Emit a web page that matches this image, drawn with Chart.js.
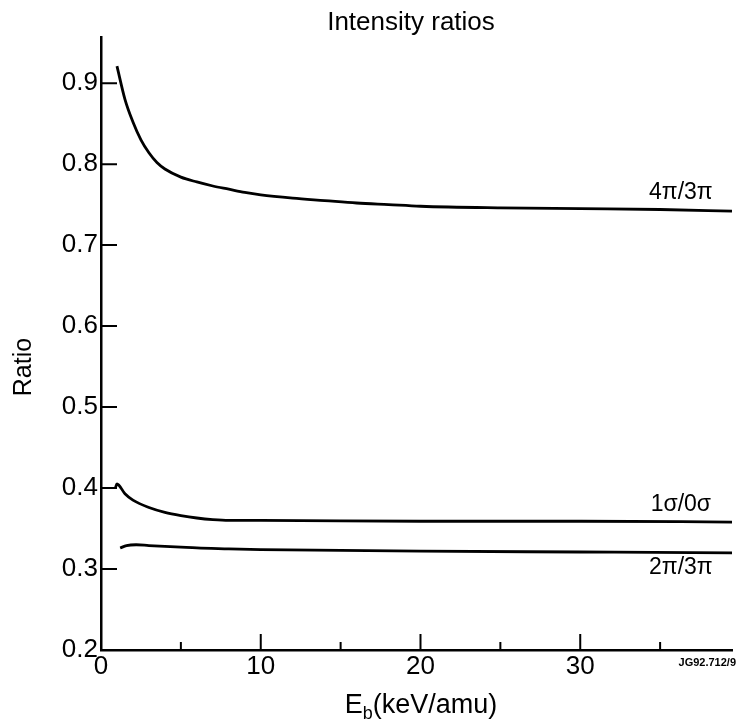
<!DOCTYPE html>
<html>
<head>
<meta charset="utf-8">
<script src="https://cdn.jsdelivr.net/npm/chart.js@4/dist/chart.umd.min.js"></script>
<style>
  body { margin: 0; background: #fff; }
  #wrap { width: 739px; height: 725px; }
</style>
</head>
<body>
<div id="wrap"><canvas id="ratios" width="739" height="725"></canvas></div>
<script>
// curve data: beam energy (keV/amu) vs ratio
const x4pi3pi = [1.0, 1.5, 2.0, 2.5, 3.0, 3.5, 4.0, 5.0, 6.0, 7.0, 8.0, 9.0, 10, 12, 14, 16, 18, 20, 25, 30, 35, 39.5];
const y4pi3pi = [0.921, 0.880, 0.852, 0.830, 0.814, 0.802, 0.794, 0.784, 0.778, 0.773, 0.769, 0.765, 0.762, 0.758, 0.755, 0.752, 0.750, 0.748, 0.746, 0.745, 0.744, 0.742];

const x1s0s = [0.9, 1.0, 1.5, 2.0, 3.0, 4.0, 5.0, 6.0, 7.0, 8.0, 10, 20, 30, 39.5];
const y1s0s = [0.400, 0.405, 0.393, 0.385, 0.376, 0.370, 0.366, 0.363, 0.361, 0.360, 0.360, 0.359, 0.359, 0.358];

const x2pi3pi = [1.2, 1.6, 2.2, 3.0, 4.0, 5.0, 6.0, 8.0, 10, 15, 20, 30, 39.5];
const y2pi3pi = [0.326, 0.329, 0.330, 0.329, 0.328, 0.327, 0.326, 0.325, 0.324, 0.323, 0.322, 0.321, 0.320];

const seriesNames = ["4π/3π", "1σ/0σ", "2π/3π"];
// where each curve name sits (data coords)
const nameX = [36.3, 36.3, 36.3];
const nameY = [0.765, 0.380, 0.302];

const xMajorTicks = [0, 10, 20, 30];
const xMinorTicks = [5, 15, 25, 35];
const yTicks = [0.2, 0.3, 0.4, 0.5, 0.6, 0.7, 0.8, 0.9];

const FONT = "'Liberation Sans', Arial, Helvetica, sans-serif";

function toPoints(xs, ys) {
    return xs.map((x, i) => ({ x: x, y: ys[i] }));
}

function lineSet(label, xs, ys) {
    return {
        label: label,
        data: toPoints(xs, ys),
        showLine: true,
        borderColor: "#000",
        borderWidth: 2.8,
        pointRadius: 0,
        fill: false,
        cubicInterpolationMode: "monotone"
    };
}

// inside tick marks, curve names and free text
const decorations = {
    id: "decorations",
    afterDraw(chart) {
        const ctx = chart.ctx;
        const xs = chart.scales.x, ys = chart.scales.y;
        const area = chart.chartArea;
        ctx.save();
        ctx.strokeStyle = "#000";
        ctx.lineWidth = 2;
        ctx.beginPath();
        yTicks.forEach(v => {
            const py = ys.getPixelForValue(v);
            ctx.moveTo(area.left, py);
            ctx.lineTo(area.left + 16, py);
        });
        xMajorTicks.slice(1).forEach(v => {
            const px = xs.getPixelForValue(v);
            ctx.moveTo(px, area.bottom);
            ctx.lineTo(px, area.bottom - 16);
        });
        xMinorTicks.forEach(v => {
            const px = xs.getPixelForValue(v);
            ctx.moveTo(px, area.bottom);
            ctx.lineTo(px, area.bottom - 8);
        });
        ctx.stroke();

        ctx.fillStyle = "#000";
        ctx.textAlign = "center";
        ctx.textBaseline = "middle";
        ctx.font = "23px " + FONT;
        seriesNames.forEach((name, i) => {
            ctx.fillText(name, xs.getPixelForValue(nameX[i]), ys.getPixelForValue(nameY[i]));
        });

        // title
        ctx.font = "26px " + FONT;
        ctx.fillText("Intensity ratios", 411, 23);

        // y title
        ctx.save();
        ctx.translate(24, 367);
        ctx.rotate(-Math.PI / 2);
        ctx.font = "25px " + FONT;
        ctx.fillText("Ratio", 0, 0);
        ctx.restore();

        // x title with subscript
        ctx.textAlign = "left";
        ctx.textBaseline = "alphabetic";
        const p1 = "E", p3 = "(keV/amu)";
        ctx.font = "18px " + FONT;
        const wSub = ctx.measureText("b").width;
        ctx.font = "27px " + FONT;
        const w1 = ctx.measureText(p1).width, w3 = ctx.measureText(p3).width;
        let sx = 421 - (w1 + wSub + w3) / 2;
        const base = 713;
        ctx.fillText(p1, sx, base);
        ctx.font = "18px " + FONT;
        ctx.fillText("b", sx + w1, base + 6);
        ctx.font = "27px " + FONT;
        ctx.fillText(p3, sx + w1 + wSub, base);

        // plate id
        ctx.font = "bold 11px 'Liberation Sans Narrow', " + FONT;
        ctx.textAlign = "right";
        ctx.fillText("JG92.712/9", 736, 666);
        ctx.restore();
    }
};

new Chart(document.getElementById("ratios"), {
    type: "scatter",
    data: {
        datasets: [
            lineSet(seriesNames[0], x4pi3pi, y4pi3pi),
            lineSet(seriesNames[1], x1s0s, y1s0s),
            lineSet(seriesNames[2], x2pi3pi, y2pi3pi)
        ]
    },
    options: {
        responsive: false,
        animation: false,
        layout: { padding: { left: 0, right: 7, top: 37, bottom: 0 } },
        plugins: {
            legend: { display: false },
            tooltip: { enabled: false },
            title: { display: false }
        },
        scales: {
            x: {
                type: "linear",
                min: 0,
                max: 39.5,
                afterFit: s => { s.height = 75; },
                afterBuildTicks: s => { s.ticks = xMajorTicks.map(v => ({ value: v })); },
                grid: { display: false, drawTicks: false },
                border: { display: true, color: "#000", width: 2.5 },
                ticks: {
                    color: "#000",
                    padding: 1,
                    maxRotation: 0,
                    font: { family: FONT, size: 26 }
                }
            },
            y: {
                type: "linear",
                min: 0.2,
                max: 0.957,
                afterFit: s => { s.width = 101; },
                afterBuildTicks: s => { s.ticks = yTicks.map(v => ({ value: v })); },
                grid: { display: false, drawTicks: false },
                border: { display: true, color: "#000", width: 2.5 },
                ticks: {
                    color: "#000",
                    padding: 3,
                    font: { family: FONT, size: 26 },
                    callback: v => v.toFixed(1)
                }
            }
        }
    },
    plugins: [decorations]
});
</script>
</body>
</html>
